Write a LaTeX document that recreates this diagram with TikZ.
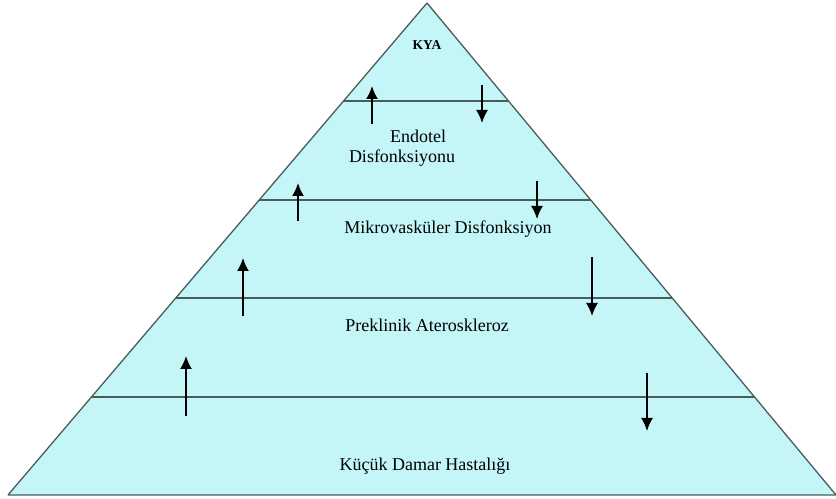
\documentclass[tikz,border=0pt]{standalone}
\usepackage{fontspec}
\setmainfont{Liberation Serif}
\usetikzlibrary{arrows.meta,calc}
\definecolor{pyrfill}{RGB}{196,246,248}
\definecolor{pyrline}{RGB}{74,92,92}
\begin{document}
\begin{tikzpicture}[>={Latex[length=13bp,width=12bp]},line join=bevel,
  lbl/.style={draw=none,inner sep=0pt,font=\fontsize{18bp}{20bp}\selectfont},
  arr/.style={black,line width=1.7bp,->}]
\useasboundingbox (0bp,0bp) rectangle (836bp,499bp);
%%
\coordinate (apex) at (427bp,496bp);
\coordinate (base_l) at (8bp,4bp);
\coordinate (base_r) at (836bp,4bp);
\draw [pyrline,line width=1.3bp,fill=pyrfill] (apex) -- (base_l) -- (base_r) -- cycle;
\foreach \t in {0.2,0.4,0.6,0.8}
  \draw [pyrline,line width=2bp] ($(apex)!\t!(base_l)$) -- ($(apex)!\t!(base_r)$);
%%
\node (kya) at (427bp,454bp) [draw=none,inner sep=0pt,font=\fontsize{13.5bp}{15bp}\selectfont\bfseries] {KYA};
  \node (endotel) at (402bp,351bp) [lbl,align=center] {\hspace*{32bp}Endotel\\Disfonksiyonu};
  \node (mikro) at (448bp,270bp) [lbl] {Mikrovasküler Disfonksiyon};
  \node (preklinik) at (427bp,174bp) [lbl] {Preklinik Ateroskleroz};
  \node (kucuk) at (425bp,33bp) [lbl] {Küçük Damar Hastalığı};
%%
\coordinate (up_1_s) at (372bp,375bp);  \coordinate (up_1_e) at (372bp,413bp);
  \coordinate (dn_1_s) at (482bp,414bp);  \coordinate (dn_1_e) at (482bp,376bp);
  \coordinate (up_2_s) at (298bp,278bp);  \coordinate (up_2_e) at (298bp,316bp);
  \coordinate (dn_2_s) at (537bp,318bp);  \coordinate (dn_2_e) at (537bp,280bp);
  \coordinate (up_3_s) at (243bp,183bp);  \coordinate (up_3_e) at (243bp,241bp);
  \coordinate (dn_3_s) at (592bp,242bp);  \coordinate (dn_3_e) at (592bp,183bp);
  \coordinate (up_4_s) at (186bp,83bp);   \coordinate (up_4_e) at (186bp,143bp);
  \coordinate (dn_4_s) at (647bp,126bp);  \coordinate (dn_4_e) at (647bp,68bp);
\foreach \i in {1,...,4} {
  \draw [arr] (up_\i_s) -- (up_\i_e);
  \draw [arr] (dn_\i_s) -- (dn_\i_e);
}
%
\end{tikzpicture}
\end{document}
